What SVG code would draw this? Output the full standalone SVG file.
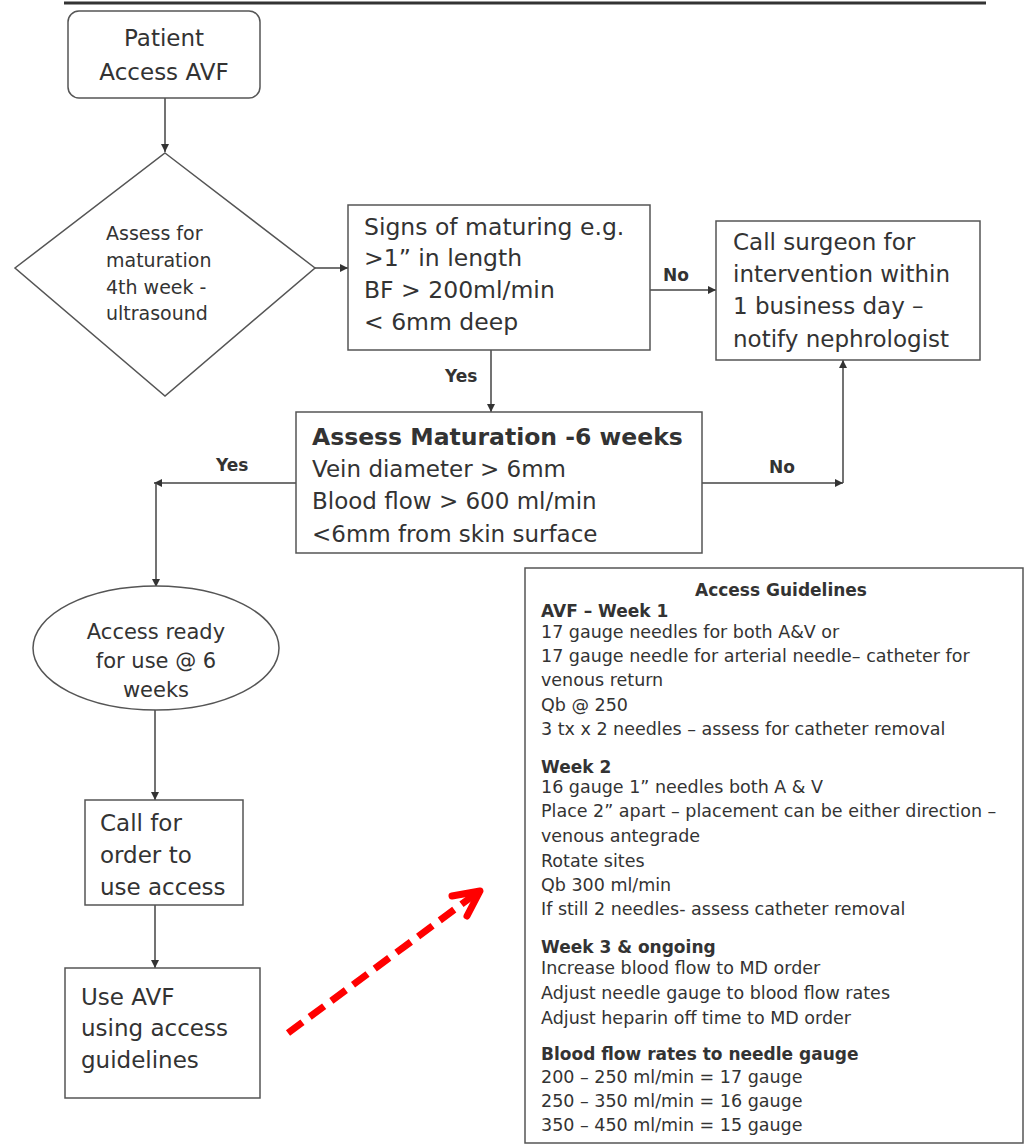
<svg xmlns="http://www.w3.org/2000/svg" width="1025" height="1145" viewBox="0 0 1025 1145">
<defs>
<style>
.t{font-family:"DejaVu Sans",Verdana,sans-serif;fill:#333;}
.big{font-size:23px;}
.dia{font-size:19px;}
.ell{font-size:21px;}
.lbl{font-size:17px;font-weight:bold;}
.g{font-size:17.5px;}
.gb{font-size:17px;font-weight:bold;}
.b{font-weight:bold;font-size:23.5px;}
.box{fill:#fff;stroke:#555;stroke-width:1.5;}
.ln{fill:none;stroke:#444;stroke-width:1.5;}
</style>
<marker id="ah" viewBox="0 0 10 10" refX="10" refY="5" markerWidth="9" markerHeight="8" markerUnits="userSpaceOnUse" orient="auto">
<path d="M0,0 L10,5 L0,10 z" fill="#333"/>
</marker>
</defs>
<rect width="1025" height="1145" fill="#fff"/>
<line x1="64" y1="3" x2="986" y2="3" stroke="#333" stroke-width="3"/>

<g id="connectors">
<path class="ln" d="M165,98 V152" marker-end="url(#ah)"/>
<path class="ln" d="M315,268 H348" marker-end="url(#ah)"/>
<path class="ln" d="M650,290 H716" marker-end="url(#ah)"/>
<path class="ln" d="M491,350 V412" marker-end="url(#ah)"/>
<path class="ln" d="M702,483 H843" marker-end="url(#ah)"/>
<path class="ln" d="M843,483 V360" marker-end="url(#ah)"/>
<path class="ln" d="M296,483 H154" marker-end="url(#ah)"/>
<path class="ln" d="M156,483 V587" marker-end="url(#ah)"/>
<path class="ln" d="M155,710 V800" marker-end="url(#ah)"/>
<path class="ln" d="M155,905 V968" marker-end="url(#ah)"/>
<text class="t lbl" x="663" y="281">No</text>
<text class="t lbl" x="445" y="382">Yes</text>
<text class="t lbl" x="769" y="473">No</text>
<text class="t lbl" x="216" y="471">Yes</text>
<path d="M288,1033 L474,895" fill="none" stroke="#ff0000" stroke-width="7" stroke-dasharray="18,9"/>
<path d="M452,896 L480,891 L467,916" fill="none" stroke="#ff0000" stroke-width="7" stroke-linecap="round" stroke-linejoin="round"/>
</g>

<g id="patient">
<rect class="box" x="68" y="11" width="192" height="87" rx="11"/>
<text class="t big" x="164" y="46" text-anchor="middle">Patient</text>
<text class="t big" x="164" y="80" text-anchor="middle">Access AVF</text>
</g>

<g id="assess4">
<polygon class="box" points="165,153 315,268 165,396 15,268"/>
<text class="t dia" x="106" y="240">Assess for</text>
<text class="t dia" x="106" y="267">maturation</text>
<text class="t dia" x="106" y="294">4th week -</text>
<text class="t dia" x="106" y="320">ultrasound</text>
</g>

<g id="signs">
<rect class="box" x="348" y="205" width="302" height="145"/>
<text class="t big" x="364" y="235" style="font-size:23.5px">Signs of maturing e.g.</text>
<text class="t big" x="364" y="266" style="font-size:23.5px">&gt;1” in length</text>
<text class="t big" x="364" y="298" style="font-size:23.5px">BF &gt; 200ml/min</text>
<text class="t big" x="364" y="330" style="font-size:23.5px">&lt; 6mm deep</text>
</g>

<g id="surgeon">
<rect class="box" x="716" y="221" width="264" height="139"/>
<text class="t big" x="733" y="250">Call surgeon for</text>
<text class="t big" x="733" y="282">intervention within</text>
<text class="t big" x="733" y="314">1 business day –</text>
<text class="t big" x="733" y="347">notify nephrologist</text>
</g>

<g id="assess6">
<rect class="box" x="296" y="412" width="406" height="141"/>
<text class="t b" x="312" y="445">Assess Maturation -6 weeks</text>
<text class="t big" x="312" y="477">Vein diameter &gt; 6mm</text>
<text class="t big" x="312" y="509">Blood flow &gt; 600 ml/min</text>
<text class="t big" x="312" y="542">&lt;6mm from skin surface</text>
</g>

<g id="ready">
<ellipse class="box" cx="156" cy="648" rx="123" ry="62"/>
<text class="t ell" x="156" y="639" text-anchor="middle">Access ready</text>
<text class="t ell" x="156" y="668" text-anchor="middle">for use @ 6</text>
<text class="t ell" x="156" y="697" text-anchor="middle">weeks</text>
</g>

<g id="callorder">
<rect class="box" x="85" y="800" width="158" height="105"/>
<text class="t big" x="100" y="831">Call for</text>
<text class="t big" x="100" y="863">order to</text>
<text class="t big" x="100" y="895">use access</text>
</g>

<g id="useavf">
<rect class="box" x="65" y="968" width="195" height="130"/>
<text class="t big" x="81" y="1005">Use AVF</text>
<text class="t big" x="81" y="1036">using access</text>
<text class="t big" x="81" y="1068">guidelines</text>
</g>

<g id="guidelines">
<rect class="box" x="525" y="568" width="498" height="575"/>
<text class="t gb" x="781" y="596" text-anchor="middle">Access Guidelines</text>
<text class="t gb" x="541" y="617">AVF – Week 1</text>
<text class="t g" x="541" y="638">17 gauge needles for both A&amp;V or</text>
<text class="t g" x="541" y="662">17 gauge needle for arterial needle– catheter for</text>
<text class="t g" x="541" y="686">venous return</text>
<text class="t g" x="541" y="711">Qb @ 250</text>
<text class="t g" x="541" y="735">3 tx x 2 needles – assess for catheter removal</text>
<text class="t gb" x="541" y="773">Week 2</text>
<text class="t g" x="541" y="793">16 gauge 1” needles both A &amp; V</text>
<text class="t g" x="541" y="817">Place 2” apart – placement can be either direction –</text>
<text class="t g" x="541" y="842">venous antegrade</text>
<text class="t g" x="541" y="867">Rotate sites</text>
<text class="t g" x="541" y="891">Qb 300 ml/min</text>
<text class="t g" x="541" y="915">If still 2 needles- assess catheter removal</text>
<text class="t gb" x="541" y="953">Week 3 &amp; ongoing</text>
<text class="t g" x="541" y="974">Increase blood flow to MD order</text>
<text class="t g" x="541" y="999">Adjust needle gauge to blood flow rates</text>
<text class="t g" x="541" y="1024">Adjust heparin off time to MD order</text>
<text class="t gb" x="541" y="1060">Blood flow rates to needle gauge</text>
<text class="t g" x="541" y="1083">200 – 250 ml/min = 17 gauge</text>
<text class="t g" x="541" y="1107">250 – 350 ml/min = 16 gauge</text>
<text class="t g" x="541" y="1131">350 – 450 ml/min = 15 gauge</text>
</g>
</svg>
